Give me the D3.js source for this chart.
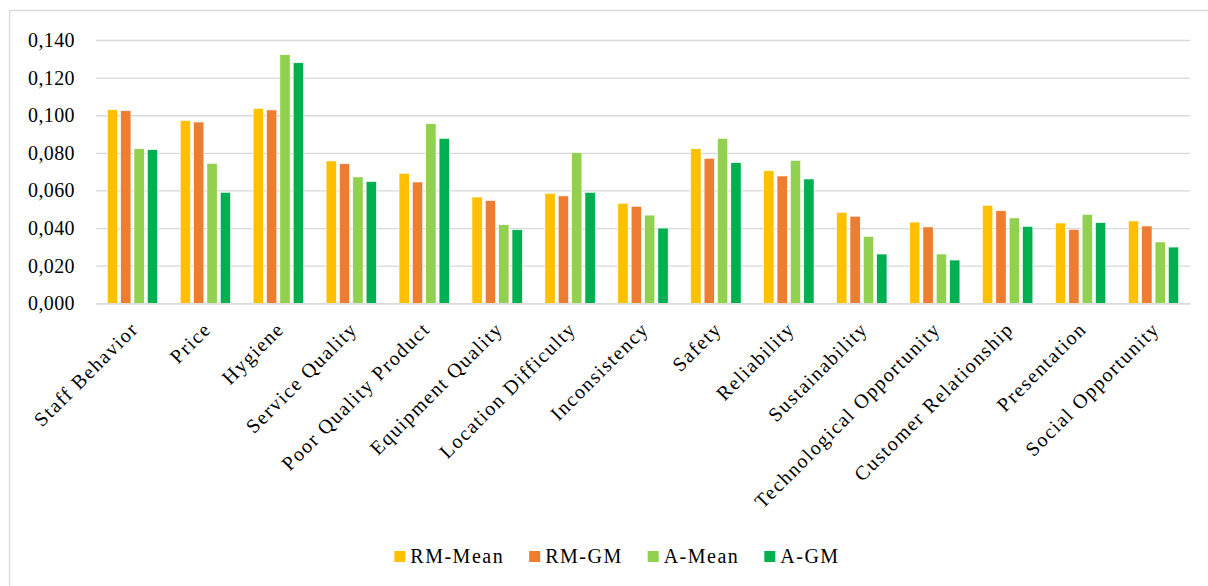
<!DOCTYPE html>
<html>
<head>
<meta charset="utf-8">
<script src="https://cdn.jsdelivr.net/npm/d3@7"></script>
<style>
  html, body { margin: 0; padding: 0; background: #fff; }
  svg { display: block; }
  text { font-family: "Liberation Serif", "Times New Roman", serif; fill: #000; }
</style>
</head>
<body>
<svg id="chart" width="1208" height="586"></svg>
<script>
// Criteria weights by ranking method
const categories = [
  "Staff Behavior", "Price", "Hygiene", "Service Quality", "Poor Quality Product",
  "Equipment Quality", "Location Difficulty", "Inconsistency", "Safety", "Reliability",
  "Sustainability", "Technological Opportunity", "Customer Relationship", "Presentation",
  "Social Opportunity"
];
const seriesNames = ["RM-Mean", "RM-GM", "A-Mean", "A-GM"];
const rmMean = [0.1030, 0.0972, 0.1036, 0.0757, 0.0691, 0.0565, 0.0585, 0.0532, 0.0822, 0.0705, 0.0484, 0.0432, 0.0521, 0.0427, 0.0438];
const rmGM   = [0.1024, 0.0964, 0.1028, 0.0742, 0.0645, 0.0546, 0.0571, 0.0516, 0.0771, 0.0677, 0.0463, 0.0406, 0.0492, 0.0393, 0.0411];
const aMean  = [0.0822, 0.0744, 0.1322, 0.0672, 0.0955, 0.0418, 0.0801, 0.0469, 0.0877, 0.0760, 0.0356, 0.0262, 0.0454, 0.0473, 0.0326];
const aGM    = [0.0817, 0.0590, 0.1279, 0.0647, 0.0877, 0.0391, 0.0590, 0.0400, 0.0748, 0.0661, 0.0262, 0.0230, 0.0409, 0.0429, 0.0299];
const yTicks = [0, 0.02, 0.04, 0.06, 0.08, 0.10, 0.12, 0.14];
const colors = ["#FFC000", "#ED7D31", "#92D050", "#00B050"];

const seriesValues = [rmMean, rmGM, aMean, aGM];
const rows = categories.map((c, i) => ({
  category: c,
  values: seriesNames.map((s, j) => ({ series: s, value: seriesValues[j][i] }))
}));

const svg = d3.select("#chart");
const plot = { left: 96, right: 1190, top: 40, bottom: 303.3 };

// chart area border
svg.append("rect")
  .attr("x", 9.5).attr("y", 10.5)
  .attr("width", 1240).attr("height", 620)
  .attr("fill", "none").attr("stroke", "#D9D9D9").attr("stroke-width", 1.3);

const y = d3.scaleLinear().domain([0, 0.14]).range([plot.bottom, plot.top]);
const x0 = d3.scaleBand().domain(categories).range([plot.left, plot.right])
  .paddingInner(0.31).paddingOuter(0.155);
const x1 = d3.scaleBand().domain(seriesNames).range([0, x0.bandwidth()]).paddingInner(0.23);
const color = d3.scaleOrdinal().domain(seriesNames).range(colors);

const locale = d3.formatLocale({ decimal: ",", thousands: ".", grouping: [3], currency: ["", "€"] });
const fmt = locale.format(".3f");

// gridlines + y labels
const yAxis = d3.axisLeft(y).tickValues(yTicks).tickFormat(fmt)
  .tickSize(-(plot.right - plot.left)).tickPadding(21);
const gy = svg.append("g").attr("transform", `translate(${plot.left},0)`).call(yAxis);
gy.select(".domain").remove();
gy.selectAll(".tick line").attr("stroke", "#D9D9D9").attr("stroke-width", 1.3);
gy.selectAll(".tick text")
  .attr("font-size", 20).attr("letter-spacing", "0.4px")
  .attr("font-family", "Liberation Serif, serif").attr("fill", "#000");

// bars
const groups = svg.append("g").selectAll("g").data(rows).join("g")
  .attr("transform", d => `translate(${x0(d.category)},0)`);
groups.selectAll("rect").data(d => d.values).join("rect")
  .attr("x", d => x1(d.series))
  .attr("width", x1.bandwidth())
  .attr("y", d => y(d.value))
  .attr("height", d => y(0) - y(d.value))
  .attr("fill", d => color(d.series))
  .attr("stroke", "#fff").attr("stroke-width", 0.6);

// category axis
const xAxis = d3.axisBottom(x0).tickSize(0).tickPadding(0);
const gx = svg.append("g").attr("transform", `translate(0,${plot.bottom})`).call(xAxis);
gx.select(".domain").attr("stroke", "#D9D9D9").attr("stroke-width", 1.3);
gx.selectAll(".tick text")
  .attr("font-size", 20).attr("letter-spacing", "1.5px")
  .attr("font-family", "Liberation Serif, serif").attr("fill", "#000")
  .attr("text-anchor", "end").attr("dy", 0).attr("y", 0)
  .attr("transform", "translate(7,27) rotate(-45)");

// legend
const legend = svg.append("g");
const items = legend.selectAll("g").data(seriesNames).join("g");
items.append("rect").attr("width", 11).attr("height", 11).attr("y", 551)
  .attr("fill", d => color(d));
items.append("text").attr("x", 16).attr("y", 562.5)
  .attr("font-size", 20).attr("letter-spacing", "1.5px")
  .text(d => d);
let cursor = 0;
const widths = [];
items.each(function () {
  const w = 16 + this.querySelector("text").getComputedTextLength();
  widths.push(w);
});
const gap = 25;
const total = d3.sum(widths) + gap * (widths.length - 1);
cursor = 617 - total / 2;
items.attr("transform", (d, i) => {
  const t = `translate(${cursor},0)`;
  cursor += widths[i] + gap;
  return t;
});
</script>
</body>
</html>
